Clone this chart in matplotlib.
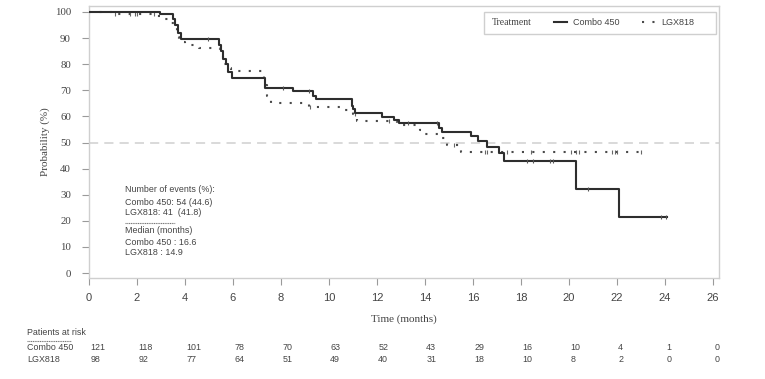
import numpy as np
import matplotlib.pyplot as plt
from matplotlib.lines import Line2D
from matplotlib.patches import Rectangle

# Kaplan-Meier curves (time in months, probability in %)
combo_t = [0, 2.95, 3.5, 3.6, 3.7, 3.85, 5.4, 5.5, 5.6, 5.7, 5.8, 5.95, 7.35, 8.5, 9.35, 9.45,
           10.95, 11.0, 11.1, 12.2, 12.7, 12.9, 14.6, 14.7, 15.9, 16.2, 16.6, 17.1, 17.3, 20.3, 22.1, 24.1]
combo_s = [100, 99.2, 97.5, 95, 92, 89.5, 87.5, 85, 82, 80, 77, 74.8, 70.9, 69.9, 68, 66.7,
           64, 62.8, 61.3, 59.8, 58.5, 57.5, 55.5, 54.2, 52.5, 50.6, 48.2, 46, 43, 32.1, 21.3, 21.3]
combo_cens = [4.95, 8.1, 9.15, 13.3, 14.5, 18.25, 18.5, 19.2, 19.35, 20.8, 23.85, 24.05]

lgx_t = [0, 1.0, 2.85, 3.0, 3.3, 3.55, 3.65, 3.75, 4.0, 4.6, 5.45, 5.6, 5.75, 5.9, 7.3, 7.4, 7.6,
         9.15, 10.5, 11.0, 11.15, 12.85, 13.8, 14.0, 14.6, 14.9, 15.5, 23.0]
lgx_s = [100, 99.2, 98.3, 97.3, 95.7, 94, 90.5, 88.6, 87.2, 86.2, 83, 80, 78.5, 77.4, 72, 68, 65,
         63.7, 62.4, 61, 58.2, 56.7, 54.8, 53.1, 51.6, 49.2, 46.2, 46.2]
lgx_cens = [1.1, 1.7, 1.9, 2.0, 2.7, 9.2, 11.1, 12.5, 15.2, 16.5, 16.6, 17.4, 18.4, 20.1, 20.3,
            20.4, 21.8, 21.9, 22.0, 23.0]

# Patients at risk
risk_times = [0, 2, 4, 6, 8, 10, 12, 14, 16, 18, 20, 22, 24, 26]
risk_combo = [121, 118, 101, 78, 70, 63, 52, 43, 29, 16, 10, 4, 1, 0]
risk_lgx = [98, 92, 77, 64, 51, 49, 40, 31, 18, 10, 8, 2, 0, 0]

serif = 'Liberation Serif'
sans = 'Liberation Sans'
txt_col = '#444444'
grid_col = '#cfcfcf'

fig = plt.figure(figsize=(7.65, 3.79), dpi=100)
ax = fig.add_axes([0.1163, 0.2665, 0.8236, 0.7177])


def step_at(t, s, x):
    idx = np.searchsorted(t, x, side='right') - 1
    return np.array(s)[idx]


ax.axhline(50, color=grid_col, lw=1.1, ls=(0, (6, 4)), zorder=1)

solid_col = '#2e2e2e'
dot_col = '#4a4a4a'
ax.step(combo_t, combo_s, where='post', color=solid_col, lw=1.5, zorder=3)
ax.plot(combo_cens, step_at(combo_t, combo_s, combo_cens), ls='none', marker='|',
        ms=3.2, mew=0.8, color='#555555', zorder=3)
ax.step(lgx_t, lgx_s, where='post', color=dot_col, lw=1.5, ls=(0, (1, 4)), zorder=2)
ax.plot(lgx_cens, step_at(lgx_t, lgx_s, lgx_cens), ls='none', marker='|',
        ms=3.2, mew=0.8, color='#666666', zorder=2)

ax.set_xlim(0, 26.25)
ax.set_ylim(-1.9, 102.3)
ax.set_xticks(range(0, 27, 2))
ax.set_yticks(range(0, 101, 10))
for sp in ax.spines.values():
    sp.set_color(grid_col)
    sp.set_linewidth(1.0)
ax.tick_params(axis='both', colors='#9a9a9a', length=5, width=0.8)
ax.tick_params(axis='y', pad=8)
ax.tick_params(axis='x', pad=6)
for lab in ax.get_yticklabels():
    lab.set_fontfamily(serif)
    lab.set_fontsize(7.8)
    lab.set_color(txt_col)
for lab in ax.get_xticklabels():
    lab.set_fontfamily(sans)
    lab.set_fontsize(8)
    lab.set_color(txt_col)

ax.set_ylabel('Probability (%)', fontfamily=serif, fontsize=8, color=txt_col, labelpad=3)
ax.set_xlabel('Time (months)', fontfamily=serif, fontsize=8, color=txt_col, labelpad=8)

# legend box
ax.add_patch(Rectangle((0.627, 0.897), 0.368, 0.081, transform=ax.transAxes,
                       fill=False, edgecolor=grid_col, lw=1.0, zorder=4))
ax.text(0.64, 0.9375, 'Treatment', transform=ax.transAxes, fontfamily=serif,
        fontsize=7, color=txt_col, va='center', ha='left')
handles = [Line2D([], [], color=solid_col, lw=1.5),
           Line2D([], [], color=dot_col, lw=1.5, ls=(0, (1, 4)))]
ax.legend(handles, ['Combo 450', 'LGX818'], ncol=2, loc='center left',
          bbox_to_anchor=(0.738, 0.9375), frameon=False, borderpad=0, borderaxespad=0,
          handlelength=1.45, handletextpad=0.7, columnspacing=2.4,
          prop={'family': sans, 'size': 6.5}, labelcolor=txt_col)

# events / median annotation
ann_kw = dict(transform=ax.transAxes, fontfamily=sans, fontsize=6.4, color=txt_col,
              va='center', ha='left')
ax.text(0.057, 0.327, 'Number of events (%):', **ann_kw)
ax.text(0.057, 0.279, 'Combo 450: 54 (44.6)', **ann_kw)
ax.text(0.057, 0.239, 'LGX818: 41  (41.8)', **ann_kw)
ax.plot([0.057, 0.1365], [0.202, 0.202], transform=ax.transAxes, color='#777777',
        lw=0.8, ls=(0, (1, 0.6)))
ax.text(0.057, 0.173, 'Median (months)', **ann_kw)
ax.text(0.057, 0.132, 'Combo 450 : 16.6', **ann_kw)
ax.text(0.057, 0.092, 'LGX818 : 14.9', **ann_kw)

# patients at risk table
tab_kw = dict(fontfamily=sans, fontsize=6.4, color=txt_col, va='center', ha='left')
ax.text(-0.098, -0.202, 'Patients at risk', transform=ax.transAxes, **tab_kw)
ax.plot([-0.098, -0.028], [-0.232, -0.232], transform=ax.transAxes, color='#777777',
        lw=0.8, ls=(0, (1, 0.6)), clip_on=False)
ax.text(-0.098, -0.257, 'Combo 450', transform=ax.transAxes, **tab_kw)
ax.text(-0.098, -0.301, 'LGX818', transform=ax.transAxes, **tab_kw)
xt = ax.get_xaxis_transform()
for x, a, b in zip(risk_times, risk_combo, risk_lgx):
    ax.text(x + 0.05, -0.257, str(a), transform=xt, **tab_kw)
    ax.text(x + 0.05, -0.301, str(b), transform=xt, **tab_kw)

fig.savefig('out.png', dpi=100)
